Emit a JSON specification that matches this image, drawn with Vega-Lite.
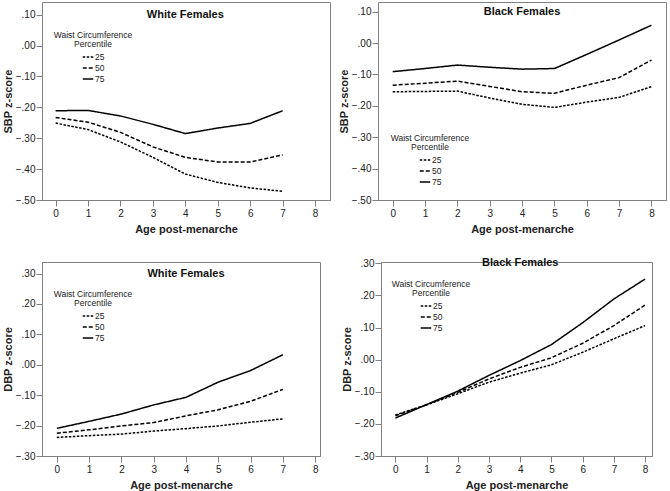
{
  "$schema": "https://vega.github.io/schema/vega-lite/v6.json",
  "padding": {"left": 1, "top": 1, "right": 0, "bottom": 0},
  "background": "white",
  "datasets": {
    "wsbp": [
      {"age": 0, "pct": "75", "z": -0.211}, {"age": 1, "pct": "75", "z": -0.210}, {"age": 2, "pct": "75", "z": -0.228}, {"age": 3, "pct": "75", "z": -0.255},
      {"age": 4, "pct": "75", "z": -0.285}, {"age": 5, "pct": "75", "z": -0.267}, {"age": 6, "pct": "75", "z": -0.252}, {"age": 7, "pct": "75", "z": -0.211},
      {"age": 0, "pct": "50", "z": -0.233}, {"age": 1, "pct": "50", "z": -0.248}, {"age": 2, "pct": "50", "z": -0.281}, {"age": 3, "pct": "50", "z": -0.328},
      {"age": 4, "pct": "50", "z": -0.362}, {"age": 5, "pct": "50", "z": -0.377}, {"age": 6, "pct": "50", "z": -0.377}, {"age": 7, "pct": "50", "z": -0.354},
      {"age": 0, "pct": "25", "z": -0.251}, {"age": 1, "pct": "25", "z": -0.272}, {"age": 2, "pct": "25", "z": -0.312}, {"age": 3, "pct": "25", "z": -0.362},
      {"age": 4, "pct": "25", "z": -0.416}, {"age": 5, "pct": "25", "z": -0.443}, {"age": 6, "pct": "25", "z": -0.461}, {"age": 7, "pct": "25", "z": -0.472}
    ],
    "bsbp": [
      {"age": 0, "pct": "75", "z": -0.091}, {"age": 1, "pct": "75", "z": -0.081}, {"age": 2, "pct": "75", "z": -0.070}, {"age": 3, "pct": "75", "z": -0.077},
      {"age": 4, "pct": "75", "z": -0.083}, {"age": 5, "pct": "75", "z": -0.081}, {"age": 6, "pct": "75", "z": -0.036}, {"age": 7, "pct": "75", "z": 0.010},
      {"age": 8, "pct": "75", "z": 0.057},
      {"age": 0, "pct": "50", "z": -0.134}, {"age": 1, "pct": "50", "z": -0.128}, {"age": 2, "pct": "50", "z": -0.121}, {"age": 3, "pct": "50", "z": -0.138},
      {"age": 4, "pct": "50", "z": -0.155}, {"age": 5, "pct": "50", "z": -0.160}, {"age": 6, "pct": "50", "z": -0.134}, {"age": 7, "pct": "50", "z": -0.110},
      {"age": 8, "pct": "50", "z": -0.054},
      {"age": 0, "pct": "25", "z": -0.155}, {"age": 1, "pct": "25", "z": -0.154}, {"age": 2, "pct": "25", "z": -0.153}, {"age": 3, "pct": "25", "z": -0.175},
      {"age": 4, "pct": "25", "z": -0.195}, {"age": 5, "pct": "25", "z": -0.205}, {"age": 6, "pct": "25", "z": -0.188}, {"age": 7, "pct": "25", "z": -0.173},
      {"age": 8, "pct": "25", "z": -0.139}
    ],
    "wdbp": [
      {"age": 0, "pct": "75", "z": -0.209}, {"age": 1, "pct": "75", "z": -0.186}, {"age": 2, "pct": "75", "z": -0.162}, {"age": 3, "pct": "75", "z": -0.132},
      {"age": 4, "pct": "75", "z": -0.107}, {"age": 5, "pct": "75", "z": -0.057}, {"age": 6, "pct": "75", "z": -0.019}, {"age": 7, "pct": "75", "z": 0.033},
      {"age": 0, "pct": "50", "z": -0.225}, {"age": 1, "pct": "50", "z": -0.214}, {"age": 2, "pct": "50", "z": -0.201}, {"age": 3, "pct": "50", "z": -0.190},
      {"age": 4, "pct": "50", "z": -0.168}, {"age": 5, "pct": "50", "z": -0.148}, {"age": 6, "pct": "50", "z": -0.120}, {"age": 7, "pct": "50", "z": -0.081},
      {"age": 0, "pct": "25", "z": -0.239}, {"age": 1, "pct": "25", "z": -0.233}, {"age": 2, "pct": "25", "z": -0.228}, {"age": 3, "pct": "25", "z": -0.218},
      {"age": 4, "pct": "25", "z": -0.210}, {"age": 5, "pct": "25", "z": -0.201}, {"age": 6, "pct": "25", "z": -0.189}, {"age": 7, "pct": "25", "z": -0.178}
    ],
    "bdbp": [
      {"age": 0, "pct": "75", "z": -0.182}, {"age": 1, "pct": "75", "z": -0.140}, {"age": 2, "pct": "75", "z": -0.098}, {"age": 3, "pct": "75", "z": -0.049},
      {"age": 4, "pct": "75", "z": -0.003}, {"age": 5, "pct": "75", "z": 0.047}, {"age": 6, "pct": "75", "z": 0.115}, {"age": 7, "pct": "75", "z": 0.189},
      {"age": 8, "pct": "75", "z": 0.251},
      {"age": 0, "pct": "50", "z": -0.175}, {"age": 1, "pct": "50", "z": -0.140}, {"age": 2, "pct": "50", "z": -0.102}, {"age": 3, "pct": "50", "z": -0.060},
      {"age": 4, "pct": "50", "z": -0.024}, {"age": 5, "pct": "50", "z": 0.006}, {"age": 6, "pct": "50", "z": 0.051}, {"age": 7, "pct": "50", "z": 0.106},
      {"age": 8, "pct": "50", "z": 0.170},
      {"age": 0, "pct": "25", "z": -0.172}, {"age": 1, "pct": "25", "z": -0.141}, {"age": 2, "pct": "25", "z": -0.106}, {"age": 3, "pct": "25", "z": -0.070},
      {"age": 4, "pct": "25", "z": -0.042}, {"age": 5, "pct": "25", "z": -0.016}, {"age": 6, "pct": "25", "z": 0.023}, {"age": 7, "pct": "25", "z": 0.065},
      {"age": 8, "pct": "25", "z": 0.106}
    ]
  },
  "spacing": 21,
  "resolve": {"scale": {"x": "independent", "y": "independent", "strokeDash": "independent"}, "legend": {"strokeDash": "independent"}},
  "vconcat": [
    {
      "spacing": 6,
      "resolve": {"scale": {"x": "independent", "y": "independent", "strokeDash": "independent"}, "legend": {"strokeDash": "independent"}},
      "hconcat": [
        {
          "width": 288, "height": 198,
          "layer": [
            {
              "data": {"name": "wsbp"},
              "mark": {"type": "line", "color": "black", "strokeWidth": 1.5},
              "encoding": {
                "x": {"field": "age", "type": "quantitative", "scale": {"domain": [-0.42, 8.46], "nice": false, "zero": false}, "axis": {"values": [0, 1, 2, 3, 4, 5, 6, 7, 8], "tickCount": 20, "format": "d", "labelOverlap": false, "labelFlush": false, "title": "Age post-menarche"}},
                "y": {"field": "z", "type": "quantitative", "scale": {"domain": [-0.5, 0.141], "nice": false, "zero": false}, "axis": {"values": [-0.5, -0.4, -0.3, -0.2, -0.1, 0, 0.1], "tickCount": 20, "labelOverlap": false, "labelFlush": false, "labelExpr": "replace(format(datum.value, '.2f'), '0.', '.')", "title": "SBP z-score"}},
                "strokeDash": {"field": "pct", "type": "nominal", "scale": {"domain": ["25", "50", "75"], "range": [[2.5, 1.5], [4, 2], [1, 0]]}, "legend": {"title": ["Waist Circumference", "Percentile"], "orient": "none", "legendX": 12, "legendY": 29, "symbolOffset": 0, "titleFontSize": 8.5, "labelFontSize": 8.5, "titleFontWeight": "normal", "titleLineHeight": 8.5}}
              }
            },
            {
              "data": {"values": [{}]},
              "mark": {"type": "text", "text": "White Females", "font": "Liberation Sans", "fontWeight": "bold", "fontSize": 11, "baseline": "middle", "align": "center", "color": "#111"},
              "encoding": {"x": {"datum": 4, "type": "quantitative"}, "y": {"datum": 0.1, "type": "quantitative"}}
            }
          ]
        },
        {
          "width": 288, "height": 198,
          "layer": [
            {
              "data": {"name": "bsbp"},
              "mark": {"type": "line", "color": "black", "strokeWidth": 1.5},
              "encoding": {
                "x": {"field": "age", "type": "quantitative", "scale": {"domain": [-0.455, 8.45], "nice": false, "zero": false}, "axis": {"values": [0, 1, 2, 3, 4, 5, 6, 7, 8], "tickCount": 20, "format": "d", "labelOverlap": false, "labelFlush": false, "title": "Age post-menarche"}},
                "y": {"field": "z", "type": "quantitative", "scale": {"domain": [-0.5, 0.131], "nice": false, "zero": false}, "axis": {"values": [-0.5, -0.4, -0.3, -0.2, -0.1, 0, 0.1], "tickCount": 20, "labelOverlap": false, "labelFlush": false, "labelExpr": "replace(format(datum.value, '.2f'), '0.', '.')", "title": "SBP z-score"}},
                "strokeDash": {"field": "pct", "type": "nominal", "scale": {"domain": ["25", "50", "75"], "range": [[2.5, 1.5], [4, 2], [1, 0]]}, "legend": {"title": ["Waist Circumference", "Percentile"], "orient": "none", "legendX": 13, "legendY": 132, "symbolOffset": 0, "titleFontSize": 8.5, "labelFontSize": 8.5, "titleFontWeight": "normal", "titleLineHeight": 8.5}}
              }
            },
            {
              "data": {"values": [{}]},
              "mark": {"type": "text", "text": "Black Females", "font": "Liberation Sans", "fontWeight": "bold", "fontSize": 11, "baseline": "middle", "align": "center", "color": "#111"},
              "encoding": {"x": {"datum": 4, "type": "quantitative"}, "y": {"datum": 0.1, "type": "quantitative"}}
            }
          ]
        }
      ]
    },
    {
      "spacing": 19,
      "resolve": {"scale": {"x": "independent", "y": "independent", "strokeDash": "independent"}, "legend": {"strokeDash": "independent"}},
      "hconcat": [
        {
          "width": 278, "height": 194,
          "layer": [
            {
              "data": {"name": "wdbp"},
              "mark": {"type": "line", "color": "black", "strokeWidth": 1.5},
              "encoding": {
                "x": {"field": "age", "type": "quantitative", "scale": {"domain": [-0.46, 8.15], "nice": false, "zero": false}, "axis": {"values": [0, 1, 2, 3, 4, 5, 6, 7, 8], "tickCount": 20, "format": "d", "labelOverlap": false, "labelFlush": false, "title": "Age post-menarche"}},
                "y": {"field": "z", "type": "quantitative", "scale": {"domain": [-0.3, 0.338], "nice": false, "zero": false}, "axis": {"values": [-0.3, -0.2, -0.1, 0, 0.1, 0.2, 0.3], "tickCount": 20, "labelOverlap": false, "labelFlush": false, "labelExpr": "replace(format(datum.value, '.2f'), '0.', '.')", "title": "DBP z-score"}},
                "strokeDash": {"field": "pct", "type": "nominal", "scale": {"domain": ["25", "50", "75"], "range": [[2.5, 1.5], [4, 2], [1, 0]]}, "legend": {"title": ["Waist Circumference", "Percentile"], "orient": "none", "legendX": 12, "legendY": 28, "symbolOffset": 0, "titleFontSize": 8.5, "labelFontSize": 8.5, "titleFontWeight": "normal", "titleLineHeight": 8.5}}
              }
            },
            {
              "data": {"values": [{}]},
              "mark": {"type": "text", "text": "White Females", "font": "Liberation Sans", "fontWeight": "bold", "fontSize": 11, "baseline": "middle", "align": "center", "color": "#111"},
              "encoding": {"x": {"datum": 4, "type": "quantitative"}, "y": {"datum": 0.3, "type": "quantitative"}}
            }
          ]
        },
        {
          "width": 271, "height": 194,
          "layer": [
            {
              "data": {"name": "bdbp"},
              "mark": {"type": "line", "color": "black", "strokeWidth": 1.5},
              "encoding": {
                "x": {"field": "age", "type": "quantitative", "scale": {"domain": [-0.46, 8.22], "nice": false, "zero": false}, "axis": {"values": [0, 1, 2, 3, 4, 5, 6, 7, 8], "tickCount": 20, "format": "d", "labelOverlap": false, "labelFlush": false, "title": "Age post-menarche"}},
                "y": {"field": "z", "type": "quantitative", "scale": {"domain": [-0.3, 0.304], "nice": false, "zero": false}, "axis": {"values": [-0.3, -0.2, -0.1, 0, 0.1, 0.2, 0.3], "tickCount": 20, "labelOverlap": false, "labelFlush": false, "labelExpr": "replace(format(datum.value, '.2f'), '0.', '.')", "title": "DBP z-score"}},
                "strokeDash": {"field": "pct", "type": "nominal", "scale": {"domain": ["25", "50", "75"], "range": [[2.5, 1.5], [4, 2], [1, 0]]}, "legend": {"title": ["Waist Circumference", "Percentile"], "orient": "none", "legendX": 11, "legendY": 18, "symbolOffset": 0, "titleFontSize": 8.5, "labelFontSize": 8.5, "titleFontWeight": "normal", "titleLineHeight": 8.5}}
              }
            },
            {
              "data": {"values": [{}]},
              "mark": {"type": "text", "text": "Black Females", "font": "Liberation Sans", "fontWeight": "bold", "fontSize": 11, "baseline": "middle", "align": "center", "color": "#111"},
              "encoding": {"x": {"datum": 4, "type": "quantitative"}, "y": {"datum": 0.3, "type": "quantitative"}}
            }
          ]
        }
      ]
    }
  ],
  "config": {
    "font": "Liberation Sans",
    "view": {"stroke": "#808080", "strokeWidth": 1},
    "axis": {
      "domainColor": "#808080", "tickColor": "#808080", "tickSize": 6, "grid": false, "labelOverlap": false,
      "labelFont": "Liberation Sans", "labelFontSize": 10, "labelColor": "#222", "labelPadding": 1,
      "titleFont": "Liberation Sans", "titleFontSize": 11, "titleFontWeight": "bold", "titleColor": "#222"
    },
    "axisX": {"labelPadding": 2, "titlePadding": 5},
    "axisY": {"titlePadding": 2},
    "legend": {
      "titleFont": "Liberation Sans", "titleFontSize": 8.5, "titleFontWeight": "normal", "titleColor": "#222",
      "titleAlign": "center", "titleAnchor": "middle", "titleLineHeight": 8.5, "titlePadding": 3,
      "labelFont": "Liberation Sans", "labelFontSize": 8.5, "labelColor": "#222", "labelOffset": 1,
      "symbolType": "stroke", "symbolSize": 110, "symbolStrokeWidth": 1.5, "symbolStrokeColor": "black",
      "rowPadding": 0, "padding": 0
    },
    "text": {"font": "Liberation Sans"}
  }
}
